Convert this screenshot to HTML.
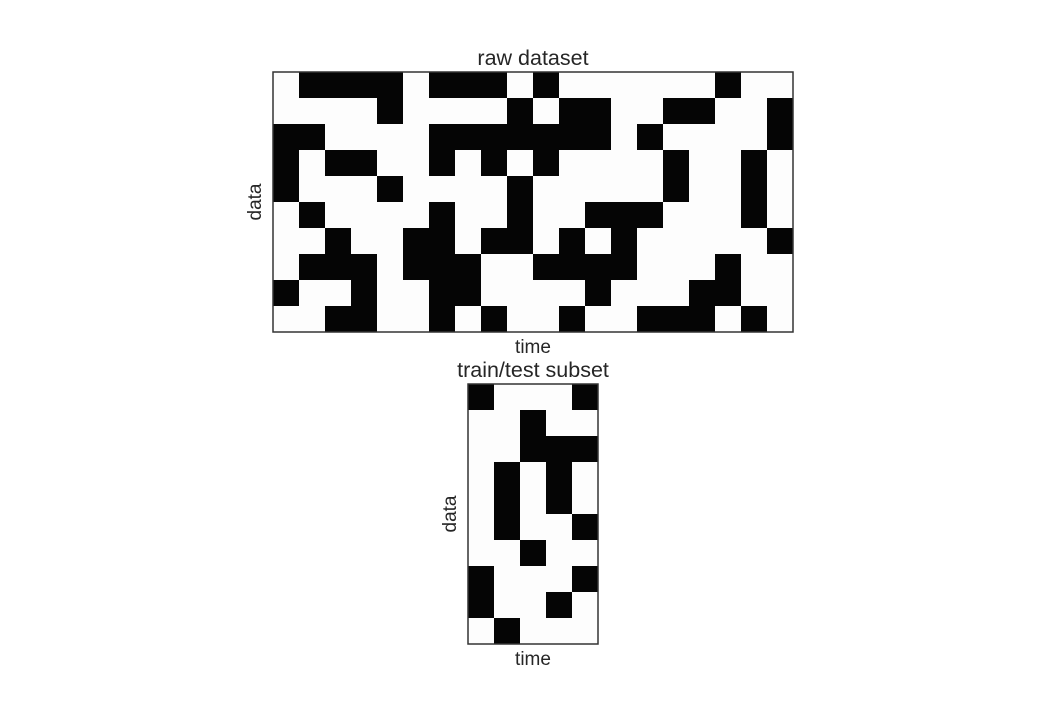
<!DOCTYPE html>
<html><head><meta charset="utf-8"><style>
body{margin:0;background:#fff;}
svg text{font-family:"Liberation Sans",sans-serif;fill:#262626;}
</style></head><body>
<svg id="chart" width="1040" height="715" xmlns="http://www.w3.org/2000/svg"></svg>
<script>
const rawRows = [
"01111011101000000100",
"00001000010110011001",
"11000011111110100001",
"10110010101000010010",
"10001000010000010010",
"01000010010011100010",
"00100110110101000001",
"01110111001111000100",
"10010011000010001100",
"00110010100100111010"];
const subsetRows = [
"10001",
"00100",
"00111",
"01010",
"01010",
"01001",
"00100",
"10001",
"10010",
"01000"];
const svg = document.getElementById('chart');
const NS = 'http://www.w3.org/2000/svg';
function mk(tag, attrs){const e=document.createElementNS(NS,tag);for(const k in attrs)e.setAttribute(k,attrs[k]);svg.appendChild(e);return e;}
function heatmap(rows, x0, y0, cell, title, prefix){
  const nr=rows.length, nc=rows[0].length;
  rows.forEach((r,i)=>{[...r].forEach((v,j)=>{
    const c=mk('rect',{x:x0+j*cell,y:y0+i*cell,width:cell+0.5,height:cell+0.5,fill:v==='1'?'#050505':'#fdfdfd'});
    
    
  });});
  const w=nc*cell,h=nr*cell;
  const f=mk('rect',{x:x0,y:y0,width:w,height:h,fill:'none',stroke:'#333',"stroke-width":1.5});
  
  
  const t=mk('text',{x:x0+w/2,y:y0-7,"text-anchor":"middle","font-size":21.5});t.textContent=title;
  
  
  const xl=mk('text',{x:x0+w/2,y:y0+h+21,"text-anchor":"middle","font-size":19});xl.textContent='time';
  
  
  const cy=y0+h/2;
  const yl=mk('text',{x:x0-12,y:cy,"text-anchor":"middle","font-size":19,transform:`rotate(-90 ${x0-12} ${cy})`});yl.textContent='data';
  
  
}
heatmap(rawRows,273,72,26,'raw dataset','raw');
heatmap(subsetRows,468,384,26,'train/test subset','subset');
</script>
</body></html>
